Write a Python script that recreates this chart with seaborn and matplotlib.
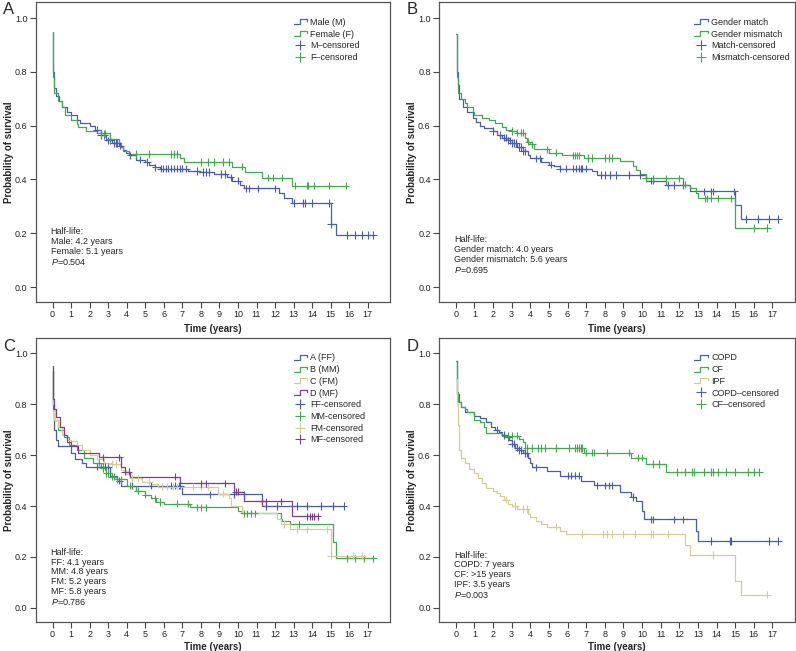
import numpy as np
import pandas as pd
import seaborn as sns
import matplotlib
matplotlib.use("Agg")
import matplotlib.pyplot as plt
from matplotlib.lines import Line2D
from matplotlib.legend_handler import HandlerBase

# ---- colours
BLUE = "#4b5cae"
GREEN = "#45a850"
TAN = "#d3cd9c"
PURPLE = "#7c3f8e"

# ---- Panel A: recipient sex
A_male_t = [0, 0.05, 0.1, 0.2, 0.35, 0.5, 0.8, 1.0, 1.3, 1.5, 2.0, 2.3, 2.6, 2.9, 3.2, 3.6, 3.8, 3.95, 4.1,
            4.5, 5.0, 5.2, 5.5, 5.8, 7.3, 7.9, 8.7, 9.4, 9.7, 10.1, 10.3, 12.2, 12.5, 12.9, 15.0, 15.3, 17.3]
A_male_s = [0.95, 0.80, 0.74, 0.71, 0.69, 0.67, 0.65, 0.64, 0.62, 0.61, 0.60, 0.585, 0.565, 0.545, 0.535, 0.525,
            0.51, 0.50, 0.49, 0.474, 0.465, 0.455, 0.445, 0.44, 0.432, 0.428, 0.42, 0.408, 0.395, 0.378, 0.367,
            0.35, 0.33, 0.313, 0.233, 0.194, 0.194]
A_male_c = [2.4, 2.6, 2.8, 3.0, 3.1, 3.3, 3.4, 3.5, 3.65, 4.2, 4.7, 5.1, 5.55, 5.85, 5.95, 6.1, 6.25, 6.4, 6.55,
            6.7, 6.85, 7.0, 7.2, 7.8, 8.1, 8.3, 8.45, 9.1, 9.3, 9.6, 10.0, 10.45, 10.6, 11.1, 12.0, 13.0, 13.5,
            13.6, 14.0, 14.9, 15.0, 15.9, 16.3, 16.7, 17.0, 17.3]
A_fem_t = [0, 0.05, 0.1, 0.3, 0.5, 0.7, 1.0, 1.3, 1.4, 1.8, 2.4, 3.1, 3.6, 3.7, 3.8, 4.1, 6.9, 7.1, 9.7, 10.4,
           11.3, 12.9, 15.8]
A_fem_s = [0.95, 0.78, 0.72, 0.69, 0.67, 0.64, 0.62, 0.605, 0.595, 0.58, 0.572, 0.55, 0.535, 0.52, 0.505, 0.495,
           0.48, 0.465, 0.447, 0.428, 0.406, 0.377, 0.377]
A_fem_c = [2.6, 2.75, 2.85, 3.1, 4.5, 5.2, 6.4, 6.55, 6.7, 8.0, 8.4, 8.7, 9.2, 9.5, 10.2, 11.6, 11.9, 12.4,
           13.1, 13.7, 13.8, 14.1, 14.9, 15.8]

# ---- Panel B: gender match
B_match_t = [0, 0.05, 0.1, 0.2, 0.4, 0.6, 0.9, 1.1, 1.3, 1.5, 2.0, 2.2, 2.5, 2.8, 3.0, 3.3, 3.6, 3.9, 4.0, 4.6,
             5.0, 5.3, 5.6, 7.3, 7.6, 10.2, 11.3, 12.6, 15.0, 15.3, 17.3]
B_match_s = [0.94, 0.80, 0.75, 0.70, 0.67, 0.65, 0.63, 0.615, 0.60, 0.59, 0.58, 0.565, 0.555, 0.545, 0.535, 0.52,
             0.505, 0.49, 0.478, 0.465, 0.455, 0.45, 0.44, 0.43, 0.416, 0.395, 0.379, 0.356, 0.305, 0.253, 0.253]
B_match_c = [2.0, 2.4, 2.6, 2.7, 2.8, 2.9, 3.0, 3.1, 3.25, 3.4, 3.5, 3.6, 3.7, 4.3, 4.5, 5.1, 5.6, 5.9, 6.3,
             6.45, 6.6, 6.7, 6.8, 7.0, 7.8, 8.0, 8.3, 8.6, 9.3, 9.9, 10.5, 10.6, 11.4, 11.7, 12.2, 13.3, 13.7,
             13.8, 14.95, 15.6, 16.2, 16.8, 17.3]
B_mis_t = [0, 0.05, 0.1, 0.3, 0.5, 0.6, 0.9, 1.0, 1.4, 1.8, 2.1, 2.5, 2.7, 3.0, 3.3, 3.7, 3.8, 4.0, 4.2, 5.0,
           5.7, 6.9, 8.8, 9.5, 9.7, 9.9, 10.2, 12.2, 12.6, 12.9, 13.0, 15.0, 16.7]
B_mis_s = [0.94, 0.78, 0.72, 0.70, 0.685, 0.67, 0.65, 0.64, 0.63, 0.62, 0.61, 0.595, 0.585, 0.58, 0.574, 0.555,
           0.54, 0.53, 0.512, 0.50, 0.49, 0.48, 0.468, 0.45, 0.435, 0.42, 0.404, 0.38, 0.37, 0.35, 0.33, 0.219,
           0.219]
B_mis_c = [3.0, 3.3, 3.5, 3.6, 3.9, 4.1, 4.9, 5.4, 6.3, 6.4, 6.5, 6.6, 7.1, 7.3, 8.0, 8.2, 8.4, 10.2, 10.6,
           11.3, 12.0, 12.3, 13.4, 13.5, 13.7, 14.1, 14.8, 16.0, 16.7]

# ---- Panel C: donor/recipient sex combinations
C_ff_t = [0, 0.05, 0.1, 0.2, 0.3, 1.0, 1.2, 1.6, 1.8, 3.1, 3.5, 3.7, 7.0, 11.3, 15.7]
C_ff_s = [0.93, 0.78, 0.70, 0.66, 0.635, 0.61, 0.585, 0.57, 0.555, 0.52, 0.50, 0.48, 0.446, 0.40, 0.40]
C_ff_c = [2.4, 2.7, 2.85, 3.0, 3.6, 4.3, 5.3, 6.4, 6.6, 6.8, 6.9, 8.5, 9.8, 10.3, 11.5, 12.1, 13.2, 13.7, 14.5,
          15.1, 15.7]
C_mm_t = [0, 0.05, 0.1, 0.3, 0.6, 0.9, 1.3, 1.7, 2.2, 2.6, 2.9, 3.2, 3.5, 4.0, 4.5, 5.0, 5.3, 5.6, 6.0, 7.4,
          10.0, 10.2, 12.3, 12.4, 12.8, 15.1, 15.3, 17.3]
C_mm_s = [0.93, 0.80, 0.74, 0.70, 0.67, 0.64, 0.62, 0.59, 0.57, 0.55, 0.53, 0.515, 0.505, 0.48, 0.46, 0.445,
          0.43, 0.416, 0.41, 0.395, 0.38, 0.372, 0.35, 0.34, 0.328, 0.26, 0.195, 0.195]
C_mm_c = [2.5, 2.7, 2.9, 3.0, 3.2, 3.3, 3.5, 3.7, 4.2, 4.6, 5.0, 5.5, 5.8, 6.7, 7.3, 7.8, 8.0, 8.3, 10.3, 10.5,
          10.7, 10.9, 13.3, 15.9, 16.3, 16.8, 17.3]
C_fm_t = [0, 0.05, 0.1, 0.3, 0.5, 0.8, 1.0, 1.3, 1.6, 2.0, 2.4, 2.8, 3.2, 3.7, 3.9, 4.2, 4.8, 5.3, 5.7, 8.9,
          9.5, 9.6, 10.2, 12.1, 12.3, 12.8, 15.0, 16.7]
C_fm_s = [0.95, 0.80, 0.74, 0.71, 0.68, 0.66, 0.655, 0.64, 0.62, 0.60, 0.585, 0.57, 0.565, 0.54, 0.525, 0.51,
          0.495, 0.485, 0.476, 0.449, 0.43, 0.40, 0.372, 0.35, 0.33, 0.308, 0.205, 0.205]
C_fm_c = [3.2, 3.4, 4.3, 4.6, 5.2, 5.9, 6.2, 6.5, 6.7, 7.6, 8.0, 8.4, 9.2, 12.5, 13.2, 13.7, 14.8, 15.0, 16.2,
          16.7]
C_mf_t = [0, 0.05, 0.1, 0.2, 0.4, 0.6, 0.8, 1.0, 1.4, 2.5, 3.7, 3.9, 4.2, 6.9, 9.8, 10.3, 12.9, 14.3]
C_mf_s = [0.95, 0.82, 0.78, 0.75, 0.71, 0.68, 0.65, 0.635, 0.61, 0.592, 0.555, 0.535, 0.515, 0.489, 0.456,
          0.419, 0.359, 0.359]
C_mf_c = [2.7, 3.6, 3.9, 4.1, 6.6, 8.0, 8.3, 9.3, 9.9, 10.0, 11.3, 11.5, 12.3, 13.7, 13.9, 14.0, 14.1, 14.3]

# ---- Panel D: diagnosis
D_copd_t = [0, 0.05, 0.15, 0.3, 0.5, 1.0, 1.3, 1.6, 1.9, 2.1, 2.3, 2.5, 2.7, 2.85, 3.0, 3.2, 3.4, 3.6, 3.9,
            4.0, 4.1, 4.9, 5.6, 6.7, 7.4, 8.8, 9.4, 9.7, 10.0, 10.1, 12.9, 13.0, 17.3]
D_copd_s = [0.97, 0.84, 0.81, 0.79, 0.77, 0.755, 0.745, 0.73, 0.71, 0.70, 0.69, 0.68, 0.67, 0.66, 0.645, 0.63,
            0.62, 0.609, 0.59, 0.57, 0.552, 0.536, 0.52, 0.499, 0.481, 0.455, 0.435, 0.42, 0.38, 0.348, 0.30,
            0.262, 0.262]
D_copd_c = [2.2, 2.6, 2.8, 3.0, 3.1, 3.3, 3.4, 3.5, 3.7, 3.8, 4.3, 6.0, 6.2, 6.4, 6.6, 7.6, 8.0, 8.2, 8.4, 9.5,
            10.5, 10.6, 11.7, 12.2, 13.7, 14.7, 14.8, 16.8, 17.3]
D_cf_t = [0, 0.05, 0.1, 0.3, 0.5, 0.6, 1.0, 1.3, 1.5, 1.6, 2.5, 3.4, 3.6, 3.7, 6.9, 9.4, 10.2, 11.3, 16.3]
D_cf_s = [0.97, 0.85, 0.81, 0.79, 0.78, 0.77, 0.74, 0.73, 0.71, 0.688, 0.677, 0.665, 0.65, 0.628, 0.61, 0.59,
          0.566, 0.534, 0.534]
D_cf_c = [2.8, 3.0, 3.3, 3.8, 4.1, 4.4, 4.6, 4.8, 5.4, 6.1, 6.4, 6.5, 6.6, 6.7, 6.8, 7.0, 7.3, 7.4, 8.1, 9.3,
          9.8, 10.0, 10.6, 10.9, 11.9, 12.3, 12.7, 12.8, 13.3, 13.7, 13.8, 14.1, 14.5, 15.0, 15.7, 16.0, 16.3]
D_ipf_t = [0, 0.05, 0.1, 0.15, 0.2, 0.3, 0.5, 0.7, 1.0, 1.2, 1.4, 1.6, 2.0, 2.2, 2.4, 2.6, 2.8, 3.0, 3.3, 3.9,
           4.0, 4.3, 4.6, 4.9, 5.6, 5.9, 12.3, 12.6, 15.0, 15.3, 16.7]
D_ipf_s = [0.90, 0.80, 0.72, 0.67, 0.62, 0.59, 0.57, 0.545, 0.53, 0.51, 0.49, 0.47, 0.46, 0.45, 0.44, 0.425,
           0.41, 0.40, 0.389, 0.37, 0.355, 0.34, 0.33, 0.319, 0.302, 0.29, 0.246, 0.207, 0.104, 0.051, 0.051]
D_ipf_c = [2.7, 3.2, 3.6, 3.8, 5.4, 6.8, 7.9, 8.1, 8.4, 9.0, 9.6, 10.5, 10.6, 11.4, 13.8, 16.7]

panels = [
    dict(letter="A", rect=[0.045, 0.536, 0.445, 0.461],
         groups=[("Male (M)", A_male_t, A_male_s, A_male_c, BLUE),
                 ("Female (F)", A_fem_t, A_fem_s, A_fem_c, GREEN)],
         censor_labels=["M\u2013censored", "F\u2013censored"],
         note="Half-life:\nMale: 4.2 years\nFemale: 5.1 years\n$P$=0.504",
         leg_x=0.715, note_y=0.25, xlab_y=-0.072),
    dict(letter="B", rect=[0.5515, 0.536, 0.447, 0.461],
         groups=[("Gender match", B_match_t, B_match_s, B_match_c, BLUE),
                 ("Gender mismatch", B_mis_t, B_mis_s, B_mis_c, GREEN)],
         censor_labels=["Match-censored", "Mismatch-censored"],
         note="Half-life:\nGender match: 4.0 years\nGender mismatch: 5.6 years\n$P$=0.695",
         leg_x=0.705, note_y=0.222, xlab_y=-0.072),
    dict(letter="C", rect=[0.045, 0.0445, 0.445, 0.436],
         groups=[("A (FF)", C_ff_t, C_ff_s, C_ff_c, BLUE),
                 ("B (MM)", C_mm_t, C_mm_s, C_mm_c, GREEN),
                 ("C (FM)", C_fm_t, C_fm_s, C_fm_c, TAN),
                 ("D (MF)", C_mf_t, C_mf_s, C_mf_c, PURPLE)],
         censor_labels=["FF-censored", "MM-censored", "FM-censored", "MF-censored"],
         note="Half-life:\nFF: 4.1 years\nMM: 4.8 years\nFM: 5.2 years\nMF: 5.8 years\n$P$=0.786",
         leg_x=0.715, note_y=0.262, xlab_y=-0.069),
    dict(letter="D", rect=[0.5515, 0.0445, 0.447, 0.436],
         groups=[("COPD", D_copd_t, D_copd_s, D_copd_c, BLUE),
                 ("CF", D_cf_t, D_cf_s, D_cf_c, GREEN),
                 ("IPF", D_ipf_t, D_ipf_s, D_ipf_c, TAN)],
         censor_labels=["COPD\u2013censored", "CF\u2013censored"],
         note="Half-life:\nCOPD: 7 years\nCF: >15 years\nIPF: 3.5 years\n$P$=0.003",
         leg_x=0.705, note_y=0.252, xlab_y=-0.069),
]


class StepHandler(HandlerBase):
    # SPSS-like step icon for the curve entries
    def create_artists(self, legend, orig_handle, xdescent, ydescent, width, height, fontsize, trans):
        x0 = -xdescent
        x1 = x0 + width
        xm = x0 + width * 0.45
        y0 = -ydescent + height * 0.1
        y1 = -ydescent + height * 0.9
        ln = Line2D([x0, xm, xm, x1, x1], [y0, y0, y1, y1, y1 - height * 0.35],
                    color=orig_handle.get_color(), lw=0.9, transform=trans)
        return [ln]


sns.set_style("ticks")
plt.rcParams["font.family"] = ["Liberation Sans", "DejaVu Sans"]
plt.rcParams["mathtext.fontset"] = "custom"
plt.rcParams["mathtext.it"] = "Liberation Sans:italic"
plt.rcParams["mathtext.rm"] = "Liberation Sans"

fig = plt.figure(figsize=(7.96, 6.51), dpi=100)

for p in panels:
    ax = fig.add_axes(p["rect"])
    lines = []
    cens = []
    for name, t, s, c, col in p["groups"]:
        lines.append(pd.DataFrame({"time": t, "surv": s, "group": name}))
        idx = np.searchsorted(np.array(t), np.array(c), side="right") - 1
        cens.append(pd.DataFrame({"time": c, "surv": np.array(s)[idx], "group": name}))
    df = pd.concat(lines, ignore_index=True)
    dc = pd.concat(cens, ignore_index=True)
    pal = {g[0]: g[4] for g in p["groups"]}

    sns.lineplot(data=df, x="time", y="surv", hue="group", palette=pal, estimator=None,
                 drawstyle="steps-post", lw=0.9, legend=False, ax=ax)
    sns.scatterplot(data=dc, x="time", y="surv", hue="group", palette=pal, marker="+",
                    s=28, linewidth=0.8, legend=False, ax=ax, zorder=3)

    ax.set_xlim(-0.9, 18.2)
    ax.set_ylim(-0.056, 1.06)
    ax.set_xticks(range(0, 18))
    ax.set_yticks([0, 0.2, 0.4, 0.6, 0.8, 1.0])
    ax.set_yticklabels(["0.0", "0.2", "0.4", "0.6", "0.8", "1.0"])
    ax.tick_params(axis="both", which="both", direction="out", length=4, width=0.8,
                   labelsize=6.5, color="#444444", labelcolor="#222222", pad=2,
                   bottom=True, left=True, top=False, right=False)
    for sp in ax.spines.values():
        sp.set_visible(True)
        sp.set_color("#555555")
        sp.set_linewidth(0.9)
    ax.set_xlabel("Time (years)", fontsize=7, fontweight="bold")
    ax.set_ylabel("Probability of survival", fontsize=7, fontweight="bold")
    ax.yaxis.set_label_coords(-0.062, 0.5)
    ax.xaxis.set_label_coords(0.5, p["xlab_y"])

    handles = [Line2D([], [], color=g[4]) for g in p["groups"]]
    labels = [g[0] for g in p["groups"]]
    hmap = {h: StepHandler() for h in handles}
    for lab, g in zip(p["censor_labels"], p["groups"]):
        handles.append(Line2D([], [], color=g[4], marker="+", ls="none", ms=7, mew=0.8))
        labels.append(lab)
    ax.legend(handles=handles, labels=labels, handler_map=hmap, loc="upper left",
              bbox_to_anchor=(p["leg_x"], 0.962), frameon=False, fontsize=6.5,
              handlelength=1.5, handletextpad=0.35, labelspacing=0.3, borderpad=0)

    ax.text(0.042, p["note_y"], p["note"], transform=ax.transAxes, fontsize=6.5,
            va="top", ha="left", linespacing=1.12)

    fig.text(p["rect"][0] - 0.041, p["rect"][1] + p["rect"][3] - 0.012, p["letter"],
             fontsize=12, va="center", ha="left")

fig.savefig("out.png", dpi=100)
